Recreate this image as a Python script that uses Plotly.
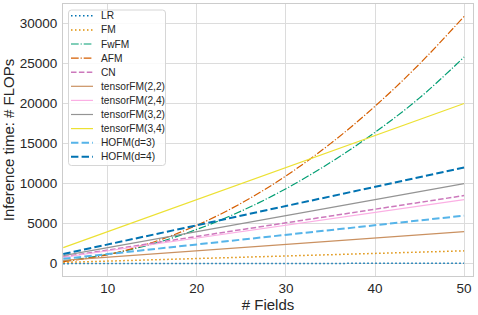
import plotly.graph_objects as go

# ---- data ----
fields = [5, 10, 15, 20, 25, 30, 35, 40, 45, 50]

lr = [5, 10, 15, 20, 25, 30, 35, 40, 45, 50]
fm = [160, 320, 480, 640, 800, 960, 1120, 1280, 1440, 1600]
fwfm = [330, 1150, 2450, 4280, 6580, 9360, 12640, 16400, 20700, 25800]
afm = [250, 1130, 2650, 4790, 7560, 10960, 14990, 19660, 24950, 30870]
cn = [850, 1700, 2550, 3400, 4250, 5100, 5950, 6800, 7650, 8500]
tfm_22 = [400, 800, 1200, 1600, 2000, 2400, 2800, 3200, 3600, 4000]
tfm_24 = [800, 1600, 2400, 3200, 4000, 4800, 5600, 6400, 7200, 8000]
tfm_32 = [1000, 2000, 3000, 4000, 5000, 6000, 7000, 8000, 9000, 10000]
tfm_34 = [2000, 4000, 6000, 8000, 10000, 12000, 14000, 16000, 18000, 20000]
hofm_3 = [600, 1200, 1800, 2400, 3000, 3600, 4200, 4800, 5400, 6000]
hofm_4 = [1200, 2400, 3600, 4800, 6000, 7200, 8400, 9600, 10800, 12000]

y_ticks = [0, 5000, 10000, 15000, 20000, 25000, 30000]
x_ticks = [10, 20, 30, 40, 50]

series = [
    ("LR", lr, "#0173b2", "1.5px,2.5px", 1.5, "linear"),
    ("FM", fm, "#de8f05", "1.5px,2.5px", 1.5, "linear"),
    ("FwFM", fwfm, "#029e73", "7.7px,1.9px,1.2px,1.9px", 1.2, "spline"),
    ("AFM", afm, "#d55e00", "7.7px,1.9px,1.2px,1.9px", 1.2, "spline"),
    ("CN", cn, "#cc78bc", "5.5px,2.4px", 1.5, "linear"),
    ("tensorFM(2,2)", tfm_22, "#ca9161", "solid", 1.2, "linear"),
    ("tensorFM(2,4)", tfm_24, "#fbafe4", "solid", 1.2, "linear"),
    ("tensorFM(3,2)", tfm_32, "#949494", "solid", 1.2, "linear"),
    ("tensorFM(3,4)", tfm_34, "#ece133", "solid", 1.2, "linear"),
    ("HOFM(d=3)", hofm_3, "#56b4e9", "7.4px,3.2px", 2.0, "linear"),
    ("HOFM(d=4)", hofm_4, "#0173b2", "7.4px,3.2px", 2.0, "linear"),
]

W, H = 478, 315
ML, MR, MT, MB = 63, 5, 4, 39
PW, PH = W - ML - MR, H - MT - MB


def px_x(px):
    return (px - ML) / PW


def px_y(py):
    return (H - MB - py) / PH


fig = go.Figure()
for name, vals, color, dash, width, shape in series:
    fig.add_trace(go.Scatter(
        x=fields, y=vals, name=name, mode="lines", showlegend=False,
        line=dict(color=color, dash=dash, width=width, shape=shape),
    ))

font_family = "Liberation Sans, Arial, sans-serif"
text_color = "#262626"

# ---- legend (compact, matplotlib-like spacing, rounded frame) ----
bx0, bx1, by0, by1, r = 68.5, 165.5, 10, 165.5, 3
pts = [
    ("M", bx0 + r, by0), ("L", bx1 - r, by0), ("Q", bx1, by0, bx1, by0 + r),
    ("L", bx1, by1 - r), ("Q", bx1, by1, bx1 - r, by1), ("L", bx0 + r, by1),
    ("Q", bx0, by1, bx0, by1 - r), ("L", bx0, by0 + r), ("Q", bx0, by0, bx0 + r, by0),
]
path = ""
for p in pts:
    cmd, coords = p[0], p[1:]
    parts = []
    for j in range(0, len(coords), 2):
        parts.append(f"{px_x(coords[j]):.5f},{px_y(coords[j + 1]):.5f}")
    path += cmd + " " + " ".join(parts) + " "
path += "Z"

shapes = [dict(
    type="path", xref="paper", yref="paper", layer="above", path=path,
    line=dict(color="#d6d6d6", width=1), fillcolor="rgba(255,255,255,0.85)",
)]
annotations = []
row0, row_gap = 15.8, 14.1
for i, (name, vals, color, dash, width, shape) in enumerate(series):
    yy = px_y(row0 + i * row_gap)
    shapes.append(dict(
        type="line", xref="paper", yref="paper", layer="above",
        x0=px_x(71), x1=px_x(93), y0=yy, y1=yy,
        line=dict(color=color, dash=dash, width=width),
    ))
    annotations.append(dict(
        xref="paper", yref="paper", x=px_x(99), y=yy,
        xanchor="left", yanchor="middle", showarrow=False,
        text=name, font=dict(size=10.2, color=text_color, family=font_family),
    ))

fig.update_layout(
    width=W, height=H,
    margin=dict(l=ML, r=MR, t=MT, b=MB),
    paper_bgcolor="white", plot_bgcolor="white",
    font=dict(family=font_family, color=text_color, size=13.5),
    showlegend=False,
    shapes=shapes, annotations=annotations,
)
fig.update_xaxes(
    range=[4.97, 51], tickvals=x_ticks,
    showgrid=True, gridcolor="#dcdcdc", gridwidth=1,
    showline=True, linecolor="#cccccc", linewidth=1, mirror=True,
    zeroline=False, ticks="",
    tickfont=dict(size=13.5, color=text_color),
    title=dict(text="# Fields", font=dict(size=15, color=text_color), standoff=2),
)
fig.update_yaxes(
    range=[-1540, 32425], tickvals=y_ticks, tickformat="d",
    showgrid=True, gridcolor="#dcdcdc", gridwidth=1,
    showline=True, linecolor="#cccccc", linewidth=1, mirror=True,
    zeroline=False,
    ticks="outside", ticklen=2, tickcolor="rgba(0,0,0,0)",
    tickfont=dict(size=13.5, color=text_color),
    title=dict(text="Inference time: # FLOPs", font=dict(size=15, color=text_color), standoff=3),
)

fig.write_html(
    "out.html",
    config={"displayModeBar": False},
    post_script="document.body.style.margin='0';document.body.style.padding='0';",
)
